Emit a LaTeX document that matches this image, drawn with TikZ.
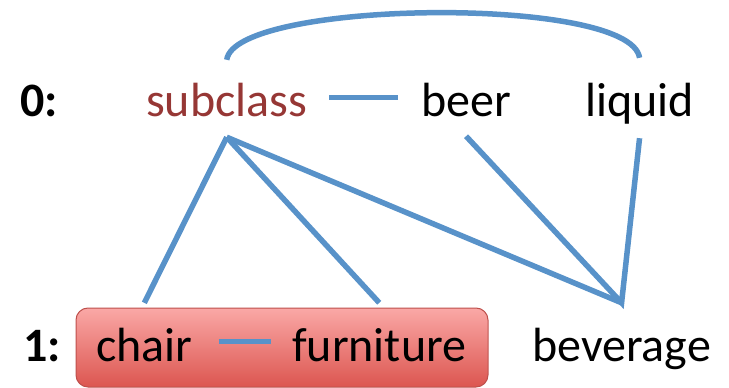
\documentclass[tikz,border=0pt]{standalone}
\usepackage{fontspec}
\setmainfont{Carlito}
\definecolor{linkblue}{RGB}{88,146,201}
\definecolor{subred}{RGB}{150,55,53}
\definecolor{boxtop}{RGB}{250,168,166}
\definecolor{boxbot}{RGB}{220,86,80}
\definecolor{boxline}{RGB}{190,80,76}
\tikzset{
  word/.style={inner sep=0pt, anchor=base west, text height=34pt, text depth=11pt, font=\fontsize{48}{50}\selectfont},
  lvl/.style={word, font=\fontsize{48}{50}\selectfont\bfseries},
  link/.style={draw=linkblue, line width=5.5pt}
}

\begin{document}
\begin{tikzpicture}[x=1pt,y=-1pt]
\useasboundingbox (0,0) rectangle (729,388);
\shade[top color=boxtop, bottom color=boxbot, draw=boxline, line width=1pt, rounded corners=12pt] (76,308) rectangle (488,387);

\node[lvl] (l0) at (20,116) {0:};
\node[word, text=subred] (subclass) at (146,116) {subclass};
\node[word] (beer) at (421,116) {beer};
\node[word] (liquid) at (585,116) {liquid};
\node[lvl] (l1) at (23,361) {1:};
\node[word] (chair) at (96,361) {chair};
\node[word] (furniture) at (292,361) {furniture};
\node[word] (beverage) at (532,361) {beverage};

\draw[link] ([yshift=22pt]subclass.north) .. controls +(8,-60) and +(-9,-63) .. ([yshift=24pt]liquid.north);
\draw[link] ([xshift=22pt,yshift=7pt]subclass.east) -- ([xshift=-23pt,yshift=7pt]beer.west);
\draw[link] ([xshift=26pt,yshift=8pt]chair.east) -- ([xshift=-21pt,yshift=8pt]furniture.west);
\foreach \t in {chair, furniture, beverage}{
	\draw[link] ([yshift=-10pt]subclass.south) -- ([yshift=24pt]\t.north);
}
\draw[link] ([yshift=-9pt]beer.south) -- ([yshift=24pt]beverage.north) -- ([yshift=-11pt]liquid.south);
\end{tikzpicture}
\end{document}
